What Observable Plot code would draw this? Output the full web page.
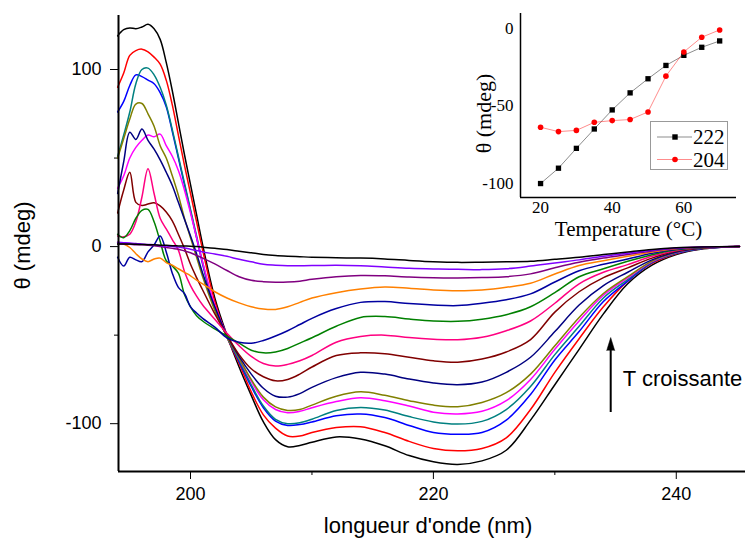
<!DOCTYPE html>
<html><head><meta charset="utf-8">
<script src="https://cdn.jsdelivr.net/npm/d3@7"></script>
<script src="https://cdn.jsdelivr.net/npm/@observablehq/plot@0.6"></script>
<style>
body{margin:0;background:#fff;}
#wrap{position:relative;width:746px;height:542px;overflow:hidden;}
#main{position:absolute;left:0;top:0;}
#inset{position:absolute;left:440px;top:0;}
#legend{position:absolute;left:650px;top:121px;}
</style></head><body>
<div id="wrap"><div id="main"></div><div id="inset"></div><div id="legend"></div></div>
<script>
// ---- main chart data: CD spectra (θ in mdeg) at increasing temperature ----
const wavelengths = [194,194.5,195,195.5,196,196.5,197,197.5,198,198.5,199,199.5,200,200.5,201,202,203,204,205,206,207,208,209,210,212,214,216,218,220,222,224,226,228,230,232,234,236,238,240,242,245.2];

const spectrum01 = [119,122.5,123.5,123,124,125.5,123,117,104,88,70,52,35,18,1,-29,-50,-68,-84,-99,-109,-113,-112.3,-110.5,-107.5,-108.7,-112.5,-118,-121.5,-123,-121,-115,-98,-78,-58,-38,-21,-10.5,-4.5,-1.5,0];
const spectrum02 = [90,98,108,110.7,111.5,110,107,103,94,80,63,46,30,14,-2,-31,-51,-66,-82,-95,-102.5,-107,-107,-105,-102.2,-101.7,-105,-110,-114,-115.3,-114,-108,-92,-71,-52,-34,-19.5,-9.5,-4,-1.2,0];
const spectrum03 = [76,82,91,97,96,94,92,87,79,65,50,35,20,5,-10,-35,-51,-65,-79,-91,-98.5,-101,-100.5,-99,-95.5,-94.5,-96.5,-101,-105,-106,-105,-98,-83.5,-64,-48,-31,-19.5,-9,-3.8,-1.2,0];
const spectrum04 = [51,63,76,92,100,100.8,97,90,80,66,51,36,21,6,-9,-35,-51,-64,-78,-90,-97.5,-100,-99.5,-97.5,-92.5,-90.8,-92.3,-96,-99,-100.2,-98.7,-92,-79,-61,-45,-29,-18.6,-8.7,-3.6,-1.1,0];
const spectrum05 = [33,40,50,56,60,63,62,63.5,57,51,43,32,19,5,-9,-33,-50,-63,-76,-86.5,-92,-93.8,-93,-91,-87.5,-85.3,-87,-90,-93.5,-94.5,-93,-87,-75,-58,-42,-27.5,-17.7,-8.5,-3.4,-1,0];
const spectrum06 = [50,61,72,80.5,80.8,75,68,57,50,40,29,16,5,-6,-17,-36,-51,-63,-75,-85,-90.5,-92.5,-92,-89.5,-84.5,-82,-84,-87,-89.5,-90.4,-88,-82.5,-72,-56,-40,-26.5,-17,-8.2,-3.2,-1,0];
const spectrum07 = [30,48,64.6,60.5,66.4,60,55,49,42,34.5,25,15.5,6,-4,-15,-34,-50,-62,-72,-80,-84.5,-85,-83,-79.5,-74,-71,-72,-74.8,-77,-78,-76.5,-71,-62.5,-48,-33,-22,-14.5,-7.5,-3,-0.9,0];
const spectrum08 = [19,32,42,25,23.2,24,24.7,23,19.5,14.5,7,-1,-10,-17.5,-24.5,-38,-50,-61,-69,-73.5,-75.8,-75,-72,-68,-61.5,-60,-60.5,-62.5,-64.5,-65.3,-63.5,-59.5,-52.5,-37,-25.5,-17.5,-12,-6.5,-2.5,-0.8,0];
const spectrum09 = [6,5.5,7,14,28,44,30,16,10,4,-2,-14,-22,-28,-33,-41,-49,-56,-62,-66,-67.4,-66.5,-64.5,-61.5,-54,-50.8,-50,-51.4,-52.3,-52.6,-51.2,-47.5,-42,-32,-21,-14.5,-10.2,-5.5,-2.2,-0.7,0];
const spectrum10 = [7,5,9,16,20.5,21,14,3,-8,-11,-15,-27,-34,-39,-42,-46.5,-50.5,-54.5,-58.5,-60,-59.5,-57.5,-54.5,-51.5,-45,-40,-39.5,-40.9,-42,-42.2,-41,-38.5,-34,-26,-17,-12.5,-8.3,-4.6,-1.8,-0.6,0];
const spectrum11 = [-6,-11,-6,-7.5,-8.5,-3,1,6,-3,-15,-23,-26.5,-34,-37.5,-40.5,-45.5,-51.5,-54,-54.6,-53,-50.5,-47.5,-44,-40.5,-35,-31.5,-31,-32.2,-33,-33.3,-32,-30,-26.7,-20,-13.6,-10,-7,-3.8,-1.5,-0.5,0];
const spectrum12 = [2.4,1.5,-0.5,-4,-7,-8.5,-7,-6.5,-9,-10.5,-12.5,-14.5,-16.5,-19,-21,-25.5,-29,-31.8,-34,-35.3,-35.5,-34,-31.5,-29,-26,-23.9,-22.8,-23.5,-24.5,-24.9,-24.5,-23,-20.7,-15.5,-10.7,-8,-5.5,-3,-1.2,-0.4,0];
const spectrum13 = [1.5,1.5,1.3,1,1,0.8,0.5,0,-0.5,-1,-1.5,-2.5,-3.5,-5,-6.5,-9.8,-13.5,-17,-19,-19.8,-20.1,-20,-19.5,-18.5,-17,-16.3,-16.5,-17.2,-17.6,-17.7,-17.5,-17,-15.4,-12,-8.9,-6.5,-4.5,-2.5,-1,-0.3,0];
const spectrum14 = [2.4,2.2,2,1.8,1.5,1.2,1,0.6,0.3,0,-0.3,-0.8,-1.5,-2.2,-3,-4.2,-5.5,-7.2,-8.6,-10,-10.5,-10.8,-10.8,-10.7,-10.5,-10.8,-11.5,-12.2,-12.6,-12.8,-13,-12.5,-11,-9.2,-7.5,-5.5,-3.8,-2,-0.8,-0.25,0];
const spectrum15 = [1.5,1.5,1.5,1.3,1.2,1.1,1,0.8,0.7,0.5,0.4,0.3,0.2,0,-0.3,-1,-1.7,-2.6,-3.5,-4.4,-5,-5.4,-5.7,-6,-6.3,-6.5,-7,-7.8,-8.5,-8.9,-8.8,-8.6,-8.3,-7.2,-6,-4.5,-3,-1.6,-0.7,-0.25,0];

const seriesColors = ["#000000","#ff0000","#0000ff","#008080","#ff00ff","#808000","#000080","#800000","#ff0080","#008000","#0000a0","#ff8000","#800080","#8000ff","#000000"];

const xTicksMajor = [200,220,240];
const xTicksMinor = [210,230];
const yTicksMajor = [-100,0,100];
const yTicksMinor = [-50,50];
const xDomain = [194.07,245.7];
const yDomain = [-127,130.5];

const arrowX = 234.6, arrowYStart = -93.7, arrowYHead = -58.7;
const annotation = "T croissante";
const annotationPos = {x: 235.6, y: -74.5};

// ---- inset data: θ at 222 nm and 204 nm vs temperature ----
const insetTemps = [20,25,30,35,40,45,50,55,60,65,70];
const theta222 = [-100,-90.1,-77.3,-64.8,-52.5,-41.5,-32.4,-23.8,-17.3,-12.1,-8.0];
const theta204 = [-63.7,-66.5,-65.7,-60.5,-59.4,-58.7,-53.8,-30.7,-15.1,-5.6,-0.9];
const insetXTicks = [20,40,60];
const insetYTicks = [-100,-50,0];
const insetXDomain = [14.4,74.7];
const insetYDomain = [-109,9.7];

// ---- build main chart ----
const spectra = [spectrum01,spectrum02,spectrum03,spectrum04,spectrum05,spectrum06,spectrum07,spectrum08,spectrum09,spectrum10,spectrum11,spectrum12,spectrum13,spectrum14,spectrum15];
const rows = spectra.flatMap((vals,i)=>vals.map((v,j)=>({wl: wavelengths[j], theta: v, s: i, color: seriesColors[i]})));

const sans = "'Liberation Sans', Arial, sans-serif";
const serif = "'Liberation Serif', 'Times New Roman', serif";

const main = Plot.plot({
  width: 746, height: 542,
  marginLeft: 118, marginRight: 1, marginTop: 15, marginBottom: 71,
  style: {fontFamily: sans, fontSize: "18px", background: "transparent", color: "#000"},
  x: {domain: xDomain},
  y: {domain: yDomain},
  color: {type: "identity"},
  marks: [
    Plot.axisX({ticks: xTicksMajor, tickSize: 8, tickPadding: 8, tickFormat: d => String(d), label: null, fontSize: 18}),
    Plot.axisX({ticks: xTicksMinor, tickSize: 4, tickFormat: () => "", label: null}),
    Plot.axisY({ticks: yTicksMajor, tickSize: 8, tickPadding: 9, tickFormat: d => String(d), label: null, fontSize: 18}),
    Plot.axisY({ticks: yTicksMinor, tickSize: 4, tickFormat: () => "", label: null}),
    Plot.line(rows, {x: "wl", y: "theta", z: "s", stroke: "color", strokeWidth: 1.5, curve: "catmull-rom"}),
    Plot.ruleX([xDomain[0]], {stroke: "#000", strokeWidth: 2}),
    Plot.ruleY([yDomain[0]], {stroke: "#000", strokeWidth: 2}),
    Plot.ruleX([arrowX], {y1: arrowYStart, y2: arrowYHead, stroke: "#000", strokeWidth: 2}),
    Plot.vector([arrowX], {x: d => d, y: arrowYHead, length: 13, r: 4, rotate: 0, shape: "spike", anchor: "start", fill: "#000", stroke: "#000", strokeWidth: 0.5}),
    Plot.text([annotation], {x: annotationPos.x, y: annotationPos.y, textAnchor: "start", fontSize: 22, fill: "#000"}),
    Plot.text(["longueur d'onde (nm)"], {frameAnchor: "bottom", textAnchor: "middle", lineAnchor: "middle", dy: 54, dx: -4, fontSize: 22, fill: "#000"}),
    Plot.text(["θ (mdeg)"], {frameAnchor: "left", textAnchor: "middle", lineAnchor: "middle", dx: -96, dy: 2, rotate: -90, fontSize: 22, fill: "#000"})
  ]
});
document.getElementById("main").appendChild(main);

// ---- build inset ----
const inset222 = insetTemps.map((t,i)=>({t, v: theta222[i]}));
const inset204 = insetTemps.map((t,i)=>({t, v: theta204[i]}));
const inset = Plot.plot({
  width: 306, height: 250,
  marginLeft: 80, marginRight: 10, marginTop: 13, marginBottom: 53,
  style: {fontFamily: serif, fontSize: "17px", background: "transparent", color: "#000", overflow: "visible"},
  x: {domain: insetXDomain},
  y: {domain: insetYDomain},
  marks: [
    Plot.axisX({ticks: insetXTicks, tickSize: 0, tickPadding: 3, tickFormat: d => String(d), label: null, fontSize: 17}),
    Plot.axisY({ticks: insetYTicks, tickSize: 0, tickPadding: 7, tickFormat: d => String(d), label: null, fontSize: 17}),
    Plot.ruleX([insetXDomain[0]], {stroke: "#000", strokeWidth: 1.5}),
    Plot.ruleY([insetYDomain[0]], {stroke: "#000", strokeWidth: 1.5}),
    Plot.line(inset222, {x: "t", y: "v", stroke: "#000", strokeOpacity: 0.45, strokeWidth: 1}),
    Plot.line(inset204, {x: "t", y: "v", stroke: "#ff0000", strokeOpacity: 0.45, strokeWidth: 1}),
    Plot.dot(inset222, {x: "t", y: "v", symbol: "square", r: 3, fill: "#000", stroke: "none"}),
    Plot.dot(inset204, {x: "t", y: "v", symbol: "circle", r: 2.8, fill: "#ff0000", stroke: "none"}),
    Plot.text(["Temperature (°C)"], {frameAnchor: "bottom", textAnchor: "middle", lineAnchor: "middle", dy: 32, fontSize: 21, fill: "#000"}),
    Plot.text(["θ (mdeg)"], {frameAnchor: "left", textAnchor: "middle", lineAnchor: "middle", dx: -37, dy: 8, rotate: -90, fontSize: 22, fill: "#000"})
  ]
});
document.getElementById("inset").appendChild(inset);

// ---- inset legend ----
const legendItems = [
  {label: "222", color: "#000", symbol: "square"},
  {label: "204", color: "#ff0000", symbol: "circle"}
];
const ns = "http://www.w3.org/2000/svg";
const lg = document.createElementNS(ns, "svg");
lg.setAttribute("width", 80); lg.setAttribute("height", 50);
lg.style.fontFamily = serif;
lg.style.overflow = "visible";
const border = document.createElementNS(ns, "rect");
border.setAttribute("x", 0.5); border.setAttribute("y", 0.5);
border.setAttribute("width", 77); border.setAttribute("height", 48);
border.setAttribute("fill", "white"); border.setAttribute("stroke", "#999");
lg.appendChild(border);
legendItems.forEach((it, i) => {
  const yy = 16 + i * 22.5;
  const ln = document.createElementNS(ns, "line");
  ln.setAttribute("x1", 7); ln.setAttribute("x2", 42); ln.setAttribute("y1", yy); ln.setAttribute("y2", yy);
  ln.setAttribute("stroke", it.color); ln.setAttribute("stroke-opacity", 0.45);
  lg.appendChild(ln);
  let mk;
  if (it.symbol === "square") {
    mk = document.createElementNS(ns, "rect");
    mk.setAttribute("x", 22.3); mk.setAttribute("y", yy - 2.7); mk.setAttribute("width", 5.4); mk.setAttribute("height", 5.4);
  } else {
    mk = document.createElementNS(ns, "circle");
    mk.setAttribute("cx", 25); mk.setAttribute("cy", yy); mk.setAttribute("r", 2.8);
  }
  mk.setAttribute("fill", it.color);
  lg.appendChild(mk);
  const tx = document.createElementNS(ns, "text");
  tx.setAttribute("x", 43); tx.setAttribute("y", yy); tx.setAttribute("dy", "0.35em");
  tx.setAttribute("font-size", 21); tx.textContent = it.label;
  lg.appendChild(tx);
});
document.getElementById("legend").appendChild(lg);
</script>
</body></html>
